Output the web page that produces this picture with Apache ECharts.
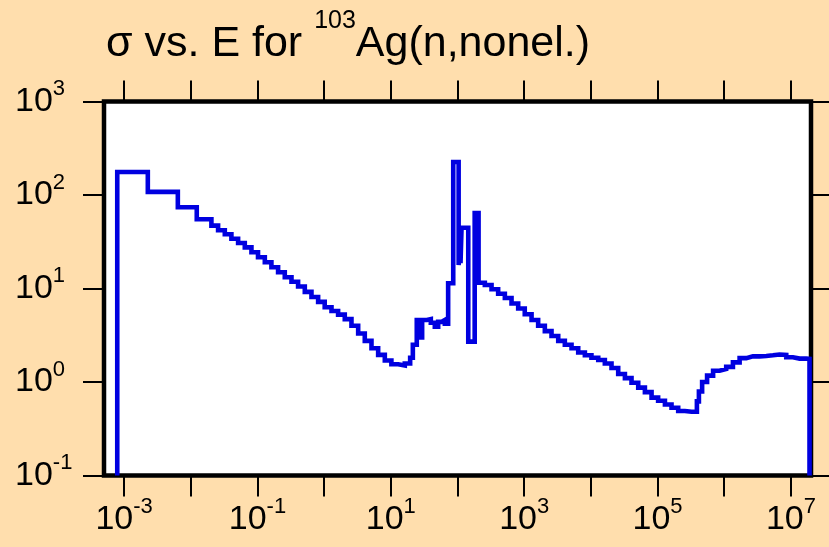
<!DOCTYPE html>
<html>
<head>
<meta charset="utf-8">
<script src="https://cdn.jsdelivr.net/npm/echarts@6/dist/echarts.min.js"></script>
<style>
  html, body { margin: 0; padding: 0; background: #ffdead; }
  #chart { width: 829px; height: 547px; }
</style>
</head>
<body>
<div id="chart"></div>
<script>
// Incident neutron energy (eV) at the start of each step
var energies = [7.9e-4, 7.9e-4, 2.27e-3, 6.4e-3, 1.23e-2, 2.04e-2, 2.57e-2, 3.24e-2, 4.07e-2, 5.13e-2,
  6.46e-2, 8.13e-2, 0.102, 0.129, 0.162, 0.204, 0.257, 0.324, 0.407, 0.513,
  0.646, 0.813, 1.02, 1.29, 1.62, 2.04, 2.57, 3.24, 4.07, 5.13,
  6.46, 8.13, 10.2, 12.9, 16.2, 19.5, 21.4, 24.5, 27.5, 29.5,
  34.7, 39.8, 45.7, 51.3, 58.2, 64.6, 72.4, 86.3, 104, 108,
  111, 115, 145, 181, 207, 257, 324, 407, 513, 646,
  813, 1020, 1290, 1620, 2040, 2570, 3240, 4070, 5130, 6460,
  8130, 10200, 12900, 16200, 20400, 25700, 32400, 40700, 51300, 64600,
  81300, 102000, 129000, 162000, 204000, 257000, 324000, 389000, 417000, 466000,
  553000, 681000, 851000, 1.07e6, 1.35e6, 1.70e6, 2.14e6, 2.69e6, 3.39e6, 4.27e6,
  5.37e6, 6.76e6, 8.51e6, 1.07e7, 1.35e7, 1.70e7, 1.90e7];
// Cross section (barns) held from each energy to the next
var sigma = [0.1, 176, 108, 74, 55, 47, 42, 38, 34, 30.7,
  27.5, 24.4, 21.6, 19.1, 16.9, 14.9, 13.2, 11.8, 10.5, 9.2,
  8.1, 7.2, 6.3, 5.75, 5.25, 4.7, 4.0, 3.3, 2.75, 2.3,
  1.95, 1.7, 1.55, 1.5, 1.58, 1.82, 2.5, 4.6, 3.0, 4.6,
  4.7, 4.3, 3.9, 4.4, 4.6, 4.2, 11.4, 225, 17.8, 45.5,
  18.6, 44.7, 2.7, 64, 11.5, 10.9, 9.8, 8.8, 7.9, 6.9,
  6.1, 5.3, 4.6, 4.0, 3.5, 3.1, 2.75, 2.5, 2.3, 2.07,
  1.93, 1.82, 1.72, 1.58, 1.41, 1.22, 1.1, 0.98, 0.87, 0.78,
  0.68, 0.63, 0.575, 0.53, 0.49, 0.48, 0.48, 0.62, 0.79, 1.0,
  1.17, 1.32, 1.38, 1.45, 1.62, 1.8, 1.88, 1.88, 1.9, 1.93,
  1.97, 1.95, 1.84, 1.78, 1.78, 1.77, 0.1];

// Axis ranges (real units) and decade tick exponents
var xRange = [5e-4, 2e7];
var yRange = [0.1, 1000];
var xTickExponents = [-3, -2, -1, 0, 1, 2, 3, 4, 5, 6, 7];
var xLabelExponents = [-3, -1, 1, 3, 5, 7];
var yTickExponents = [-1, 0, 1, 2, 3];
var yLabelExponents = [-1, 0, 1, 2, 3];

var titleMain1 = 'σ vs. E for ';
var titleSup = '103';
var titleMain2 = 'Ag(n,nonel.)';

var FONT = "'Liberation Sans', Arial, Helvetica, sans-serif";

var seriesData = energies.map(function (e, i) {
  return [Math.log10(e), Math.log10(sigma[i])];
});

function powLabel(v) {
  var n = Math.round(v);
  return '{b|10}{s|' + (n < 0 ? '-' + Math.abs(n) : n) + '}';
}

var labelRich = {
  b: { fontSize: 34, fontFamily: FONT, color: '#000', lineHeight: 47 },
  s: { fontSize: 22, fontFamily: FONT, color: '#000', lineHeight: 22, verticalAlign: 'top' }
};

var tickStyle = { color: '#000', width: 2 };

var chart = echarts.init(document.getElementById('chart'));
chart.setOption({
  backgroundColor: '#ffdead',
  animation: false,
  title: {
    text: '{a|' + titleMain1 + '}{s|' + titleSup + '}{a|' + titleMain2 + '}',
    left: 106,
    top: 9,
    padding: 0,
    textStyle: {
      fontWeight: 'normal',
      rich: {
        a: { fontSize: 43, fontFamily: FONT, fontWeight: 'normal', color: '#000', lineHeight: 71 },
        s: { fontSize: 25, fontFamily: FONT, fontWeight: 'normal', color: '#000', lineHeight: 25, verticalAlign: 'top' }
      }
    }
  },
  grid: {
    left: 104, top: 101.5, right: 18, bottom: 71.5,
    show: true, backgroundColor: '#ffffff', borderColor: '#000', borderWidth: 4.5
  },
  xAxis: [{
    type: 'value', position: 'bottom',
    min: Math.log10(xRange[0]), max: Math.log10(xRange[1]),
    splitLine: { show: false },
    axisLine: { show: false, onZero: false },
    axisTick: { show: true, customValues: xTickExponents, length: 21, lineStyle: tickStyle },
    axisLabel: { show: true, customValues: xLabelExponents, margin: 20.5, formatter: powLabel, rich: labelRich }
  }, {
    type: 'value', position: 'top',
    min: Math.log10(xRange[0]), max: Math.log10(xRange[1]),
    splitLine: { show: false },
    axisLine: { show: false, onZero: false },
    axisTick: { show: true, customValues: xTickExponents, length: 21, lineStyle: tickStyle },
    axisLabel: { show: false }
  }],
  yAxis: [{
    type: 'value', position: 'left',
    min: Math.log10(yRange[0]), max: Math.log10(yRange[1]), interval: 1,
    splitLine: { show: false },
    axisLine: { show: false, onZero: false },
    axisTick: { show: true, customValues: yTickExponents, length: 21, lineStyle: tickStyle },
    axisLabel: { show: true, customValues: yLabelExponents, margin: 89, align: 'left', formatter: powLabel, rich: labelRich }
  }, {
    type: 'value', position: 'right',
    min: Math.log10(yRange[0]), max: Math.log10(yRange[1]), interval: 1,
    splitLine: { show: false },
    axisLine: { show: false, onZero: false },
    axisTick: { show: true, customValues: yTickExponents, length: 21, lineStyle: tickStyle },
    axisLabel: { show: false }
  }],
  series: [{
    type: 'line',
    xAxisIndex: 0, yAxisIndex: 0,
    step: 'end',
    data: seriesData,
    showSymbol: false,
    symbol: 'none',
    clip: true,
    lineStyle: { color: '#0000e0', width: 4.6, join: 'miter', cap: 'butt' }
  }]
});
</script>
</body>
</html>
